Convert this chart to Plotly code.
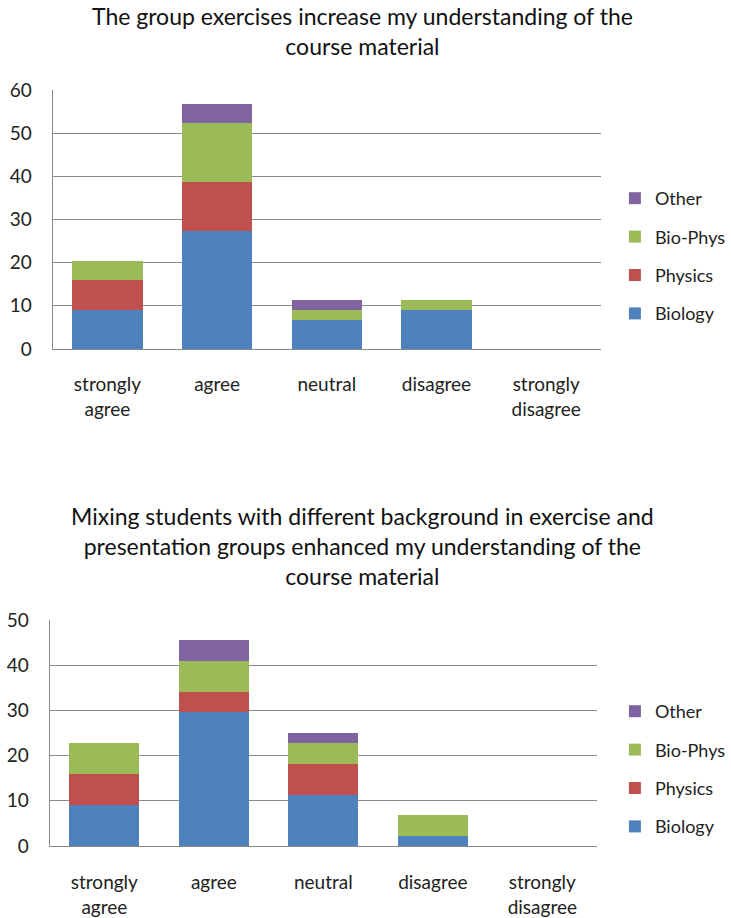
import plotly.graph_objects as go

categories = ["strongly<br>agree", "agree", "neutral", "disagree", "strongly<br>disagree"]
series_names = ["Biology", "Physics", "Bio-Phys", "Other"]
colors = ["#4F81BD", "#C0504D", "#9BBB59", "#8064A2"]

# Chart 1: The group exercises increase my understanding...
c1_biology = [9.09, 27.27, 6.82, 9.09, 0]
c1_physics = [6.82, 11.36, 0, 0, 0]
c1_biophys = [4.55, 13.64, 2.27, 2.27, 0]
c1_other = [0, 4.55, 2.27, 0, 0]

# Chart 2: Mixing students with different background...
c2_biology = [9.09, 29.55, 11.36, 2.27, 0]
c2_physics = [6.82, 4.55, 6.82, 0, 0]
c2_biophys = [6.82, 6.82, 4.55, 4.55, 0]
c2_other = [0, 4.55, 2.27, 0, 0]

title1 = "The group exercises increase my understanding of the<br>course material"
title2 = ("Mixing students with different background in exercise and<br>"
          "presentation groups enhanced my understanding of the<br>course material")

FONT = "Lato, 'Open Sans', sans-serif"
W, H = 731, 918

fig = go.Figure()
for i, (name, vals) in enumerate(zip(series_names, [c1_biology, c1_physics, c1_biophys, c1_other])):
    fig.add_trace(go.Bar(x=categories, y=vals, name=name, marker_color=colors[i],
                         marker_line_width=0, legendrank=10 - i,
                         xaxis="x", yaxis="y", legend="legend", legendgroup="a" + name))
for i, (name, vals) in enumerate(zip(series_names, [c2_biology, c2_physics, c2_biophys, c2_other])):
    fig.add_trace(go.Bar(x=categories, y=vals, name=name, marker_color=colors[i],
                         marker_line_width=0, legendrank=10 - i,
                         xaxis="x2", yaxis="y2", legend="legend2", legendgroup="b" + name))

def px_x(p):
    return p / W

def px_y(p):
    return 1 - p / H

grid = "#8A8A8A"
common_x = dict(showgrid=False, showline=True, linecolor=grid, linewidth=1, automargin=False,
                tickfont=dict(size=19, color="#222", family=FONT), ticks="",
                fixedrange=True)
common_y = dict(showgrid=True, gridcolor=grid, gridwidth=1, showline=True, linecolor=grid,
                ticks="", zeroline=False, automargin=False,
                tickfont=dict(size=19, color="#222", family=FONT), dtick=10,
                ticklabelstandoff=16)

legend_common = dict(traceorder="grouped", tracegroupgap=12, bgcolor="rgba(0,0,0,0)",
                     font=dict(size=18, color="#222", family=FONT), xanchor="left", yanchor="middle",
                     itemwidth=30)

fig.update_layout(
    width=W, height=H,
    margin=dict(l=0, r=0, t=0, b=0),
    paper_bgcolor="white", plot_bgcolor="white",
    barmode="stack", bargap=0.36,
    font=dict(family=FONT),
    xaxis=dict(domain=[px_x(53), px_x(606)], anchor="y", ticklabelstandoff=18, **common_x),
    yaxis=dict(domain=[px_y(349), px_y(90)], anchor="x", range=[0, 60], **common_y),
    xaxis2=dict(domain=[px_x(50), px_x(602)], anchor="y2", ticklabelstandoff=19, **common_x),
    yaxis2=dict(domain=[px_y(846), px_y(620)], anchor="x2", range=[0, 50], **common_y),
    legend=dict(x=px_x(620), y=px_y(256), **legend_common),
    legend2=dict(x=px_x(620), y=px_y(769), **legend_common),
    annotations=[
        dict(text=title1, x=0.5, y=px_y(31), xref="paper", yref="paper", showarrow=False,
             font=dict(size=23, color="#111", family=FONT), xanchor="center", yanchor="middle"),
        dict(text=title2, x=0.5, y=px_y(546), xref="paper", yref="paper", showarrow=False,
             font=dict(size=23, color="#111", family=FONT), xanchor="center", yanchor="middle"),
    ],
    showlegend=True,
)

fig.write_html("out.html")
